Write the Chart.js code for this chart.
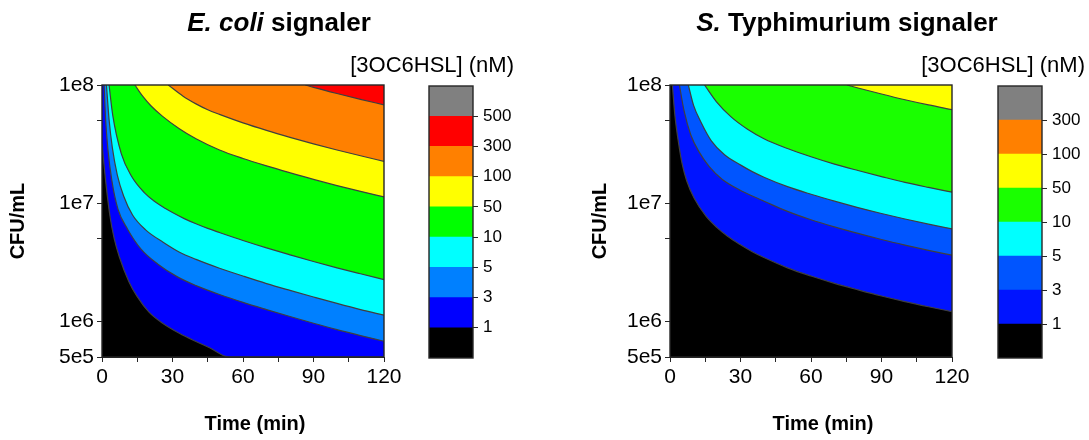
<!DOCTYPE html>
<html>
<head>
<meta charset="utf-8">
<script src="https://cdn.jsdelivr.net/npm/chart.js@4"></script>
<style>
    body { margin: 0; background: #fff; width: 1089px; height: 440px; position: relative; overflow: hidden; }
    canvas { position: absolute; top: 0; }
</style>
</head>
<body>
<canvas id="ecoliMain" width="558" height="440" style="left:0px"></canvas>
<canvas id="ecoliBar" width="245" height="440" style="left:300px"></canvas>
<canvas id="stmMain" width="521" height="440" style="left:568px"></canvas>
<canvas id="stmBar" width="220" height="440" style="left:869px"></canvas>
<script>
// ===== 字型 =====
const FONT = '"Liberation Sans", Arial, sans-serif';
Chart.defaults.font.family = FONT;
Chart.defaults.color = "#000";

// ===== 軸刻度 =====
const timeTicks = [0, 15, 30, 45, 60, 75, 90, 105, 120];
const timeTickLabels = ["0", "", "30", "", "60", "", "90", "", "120"];
const cfuTicks = [5e5, 1e6, 5e6, 1e7, 5e7, 1e8];
const cfuTickLabels = ["5e5", "1e6", "", "1e7", "", "1e8"];

// ===== 色階 (nM) =====
const ecoliLevels = ["1", "3", "5", "10", "50", "100", "300", "500"];
const ecoliColors = ["#000000", "#0000ff", "#0080ff", "#00ffff", "#00ff00", "#ffff00", "#ff8000", "#ff0000", "#808080"];
const stmLevels = ["1", "3", "5", "10", "50", "100", "300"];
const stmColors = ["#000000", "#0014ff", "#0055ff", "#00ffff", "#1aff00", "#ffff00", "#ff8000", "#808080"];

// ===== E. coli 等高線 (time min, CFU/mL) =====
const ecT1 = [0, 0.5, 1.7, 3.4, 5.2, 7.4, 11.5, 15, 20, 25.8, 32.9, 40, 46, 54, 120];
const ecN1 = [3.16e7, 2.51e7, 1.45e7, 7.76e6, 5.01e6, 3.51e6, 2.16e6, 1.62e6, 1.20e6, 9.66e5, 7.94e5, 6.76e5, 5.96e5, 5.0e5, 5.0e5];
const ecT3 = [0.9, 1.5, 2.5, 4.2, 6.8, 10.9, 16.7, 23.8, 32.3, 40, 50, 60, 70, 80, 90, 100, 110, 120];
const ecN3 = [1e8, 5.25e7, 2.88e7, 1.55e7, 8.91e6, 6.03e6, 4.07e6, 3.05e6, 2.37e6, 2.01e6, 1.69e6, 1.45e6, 1.26e6, 1.10e6, 9.64e5, 8.51e5, 7.59e5, 6.79e5];
const ecT5 = [1.9, 3.0, 4.4, 6.5, 9.2, 13, 18.8, 26, 33, 40, 50, 60, 70, 80, 90, 100, 110, 120];
const ecN5 = [1e8, 5.13e7, 2.95e7, 1.74e7, 1.15e7, 7.94e6, 5.89e6, 4.68e6, 3.85e6, 3.35e6, 2.82e6, 2.42e6, 2.09e6, 1.83e6, 1.61e6, 1.42e6, 1.26e6, 1.13e6];
const ecT10 = [3.0, 4.6, 8.2, 12.5, 18, 22, 27, 30, 35, 40, 45, 50, 60, 70, 80, 90, 100, 110, 120];
const ecN10 = [1e8, 5.50e7, 2.63e7, 1.70e7, 1.23e7, 1.05e7, 9.02e6, 8.34e6, 7.41e6, 6.70e6, 6.12e6, 5.65e6, 4.84e6, 4.19e6, 3.66e6, 3.21e6, 2.84e6, 2.53e6, 2.26e6];
const ecT50 = [14, 17.3, 20.8, 25.8, 32.9, 40, 50, 60, 70, 80, 90, 100, 110, 120];
const ecN50 = [1e8, 8.04e7, 6.68e7, 5.43e7, 4.27e7, 3.51e7, 2.82e7, 2.39e7, 2.07e7, 1.81e7, 1.59e7, 1.41e7, 1.26e7, 1.13e7];
const ecT100 = [28.2, 34.5, 40, 45, 50, 60, 70, 80, 90, 100, 110, 120];
const ecN100 = [1e8, 8.04e7, 6.92e7, 6.17e7, 5.64e7, 4.78e7, 4.13e7, 3.61e7, 3.18e7, 2.82e7, 2.52e7, 2.26e7];
const ecT300 = [86.5, 90, 100, 110, 120];
const ecN300 = [1e8, 9.55e7, 8.47e7, 7.57e7, 6.79e7];

// ===== S. Typhimurium 等高線 =====
const stT1 = [1.0, 2.1, 3.8, 5.2, 7.1, 10.3, 15.3, 20, 24.5, 30, 35, 40, 50, 60, 70, 80, 90, 100, 110, 120];
const stN1 = [1e8, 5.50e7, 3.09e7, 2.14e7, 1.55e7, 1.10e7, 7.76e6, 6.21e6, 5.25e6, 4.45e6, 3.89e6, 3.47e6, 2.84e6, 2.42e6, 2.10e6, 1.85e6, 1.64e6, 1.47e6, 1.33e6, 1.21e6];
const stT3 = [4.0, 6.0, 8.9, 12.5, 16.7, 22.4, 29.5, 35, 40, 50, 60, 70, 80, 90, 100, 110, 120];
const stN3 = [1e8, 6.03e7, 3.76e7, 2.69e7, 2.04e7, 1.58e7, 1.30e7, 1.15e7, 1.04e7, 8.53e6, 7.24e6, 6.30e6, 5.55e6, 4.93e6, 4.42e6, 3.99e6, 3.63e6];
const stT5 = [7.8, 10, 13.3, 17.5, 23.2, 30.3, 35, 40, 50, 60, 70, 80, 90, 100, 110, 120];
const stN5 = [1e8, 6.76e7, 4.79e7, 3.39e7, 2.57e7, 2.09e7, 1.85e7, 1.66e7, 1.38e7, 1.19e7, 1.04e7, 9.18e6, 8.18e6, 7.35e6, 6.65e6, 6.07e6];
const stT10 = [14.7, 19.7, 26, 33, 40, 50, 60, 70, 80, 90, 100, 110, 120];
const stN10 = [1e8, 7.24e7, 5.37e7, 4.22e7, 3.51e7, 2.90e7, 2.47e7, 2.14e7, 1.89e7, 1.68e7, 1.50e7, 1.36e7, 1.24e7];
const stT50 = [75.3, 80, 90, 100, 110, 120];
const stN50 = [1e8, 9.44e7, 8.39e7, 7.50e7, 6.78e7, 6.19e7];

// ===== Plugins =====
const textRuns = {
    id: "textRuns",
    afterDraw(chart, args, opts) {
        const ctx = chart.ctx;
        (opts.items || []).forEach(it => {
            const fontOf = r => `${r.italic ? "italic " : ""}${it.weight} ${it.size}px ${FONT}`;
            ctx.save();
            ctx.fillStyle = "#000";
            ctx.textBaseline = "alphabetic";
            let total = 0;
            it.runs.forEach(r => { ctx.font = fontOf(r); total += ctx.measureText(r.text).width; });
            let x = it.align === "right" ? it.x - total : it.x - total / 2;
            it.runs.forEach(r => {
                ctx.font = fontOf(r);
                ctx.fillText(r.text, x, it.y);
                x += ctx.measureText(r.text).width;
            });
            ctx.restore();
        });
    }
};

const frame = {
    id: "frame",
    afterDatasetsDraw(chart) {
        const a = chart.chartArea;
        const ctx = chart.ctx;
        ctx.save();
        ctx.strokeStyle = "#262626";
        ctx.lineWidth = 1.4;
        ctx.strokeRect(a.left, a.top, a.right - a.left, a.bottom - a.top);
        ctx.restore();
    }
};

// ------------------------ 等高線圖 ------------------------
function makeMain(id, width, bounds, colors, titleRuns, yTitlePad) {
    const xMax = timeTicks[timeTicks.length - 1];
    const datasets = [{
        data: [{ x: 0, y: cfuTicks[0] }, { x: xMax, y: cfuTicks[0] }],
        fill: "end",
        backgroundColor: colors[0],
        borderWidth: 0,
        pointRadius: 0,
        order: 20,
    }];
    bounds.forEach(([ts, ns], i) => {
        datasets.push({
            data: ts.map((t, k) => ({ x: t, y: ns[k] })),
            fill: "end",
            backgroundColor: colors[i + 1],
            borderColor: "#3f3f3f",
            borderWidth: 1.2,
            pointRadius: 0,
            cubicInterpolationMode: "monotone",
            order: 19 - i,
        });
    });

    new Chart(document.getElementById(id), {
        type: "scatter",
        data: { datasets },
        plugins: [textRuns, frame],
        options: {
            responsive: false,
            animation: false,
            showLine: true,
            layout: { padding: { top: 85, right: width - 384, left: 0, bottom: 0 } },
            plugins: {
                legend: { display: false },
                tooltip: { enabled: false },
                textRuns: {
                    items: [
                        { runs: titleRuns, x: 279, y: 31, size: 26, weight: "bold" },
                        { runs: [{ text: "Time (min)" }], x: 255, y: 430, size: 20, weight: "bold" },
                    ],
                },
            },
            scales: {
                x: {
                    type: "linear",
                    min: 0,
                    max: xMax,
                    afterBuildTicks: a => { a.ticks = timeTicks.map(v => ({ value: v })); },
                    afterFit: s => { s.height = 83; },
                    ticks: {
                        callback: (v, i) => timeTickLabels[i],
                        font: { size: 21 },
                        padding: 3,
                        maxRotation: 0,
                        autoSkip: false,
                    },
                    grid: { drawOnChartArea: false, tickLength: 5, color: "#262626" },
                    border: { color: "#262626" },
                },
                y: {
                    type: "logarithmic",
                    min: cfuTicks[0],
                    max: cfuTicks[cfuTicks.length - 1],
                    afterBuildTicks: a => { a.ticks = cfuTicks.map(v => ({ value: v })); },
                    afterFit: s => { s.width = 102; },
                    ticks: {
                        callback: (v, i) => cfuTickLabels[i],
                        font: { size: 21 },
                        padding: 3,
                        autoSkip: false,
                    },
                    grid: { drawOnChartArea: false, tickLength: 5, color: "#262626" },
                    border: { color: "#262626" },
                    title: {
                        display: true,
                        text: "CFU/mL",
                        font: { size: 20, weight: "bold" },
                        padding: { top: yTitlePad, bottom: 0 },
                    },
                },
            },
        },
    });
}

// ------------------------ 色條 ------------------------
function makeBar(id, width, levels, colors, titleX) {
    new Chart(document.getElementById(id), {
        type: "bar",
        data: {
            labels: [""],
            datasets: colors.map(c => ({
                data: [1],
                backgroundColor: c,
                borderWidth: 0,
                barPercentage: 1,
                categoryPercentage: 1,
                stack: "cb",
            })),
        },
        plugins: [textRuns, frame],
        options: {
            responsive: false,
            animation: false,
            layout: { padding: { left: 129, top: 86, bottom: 82, right: 0 } },
            plugins: {
                legend: { display: false },
                tooltip: { enabled: false },
                textRuns: {
                    items: [{ runs: [{ text: "[3OC6HSL] (nM)" }], x: titleX, y: 72, size: 22, weight: "normal", align: "right" }],
                },
            },
            scales: {
                x: { display: false, stacked: true },
                y: {
                    stacked: true,
                    position: "right",
                    min: 0,
                    max: colors.length,
                    afterBuildTicks: a => { a.ticks = levels.map((l, i) => ({ value: i + 1 })); },
                    afterFit: s => { s.width = width - 173; },
                    ticks: {
                        callback: (v, i) => levels[i],
                        font: { size: 17 },
                        padding: 5,
                        autoSkip: false,
                    },
                    grid: { drawOnChartArea: false, tickLength: 5, color: "#262626" },
                    border: { display: false },
                },
            },
        },
    });
}

// ------------------------ 初始化 ------------------------
makeMain("ecoliMain", 558,
    [[ecT1, ecN1], [ecT3, ecN3], [ecT5, ecN5], [ecT10, ecN10], [ecT50, ecN50], [ecT100, ecN100], [ecT300, ecN300]],
    ecoliColors,
    [{ text: "E. coli", italic: true }, { text: " signaler" }],
    6);
makeBar("ecoliBar", 245, ecoliLevels, ecoliColors, 214);

makeMain("stmMain", 521,
    [[stT1, stN1], [stT3, stN3], [stT5, stN5], [stT10, stN10], [stT50, stN50]],
    stmColors,
    [{ text: "S.", italic: true }, { text: " Typhimurium signaler" }],
    20);
makeBar("stmBar", 220, stmLevels, stmColors, 216);
</script>
</body>
</html>
